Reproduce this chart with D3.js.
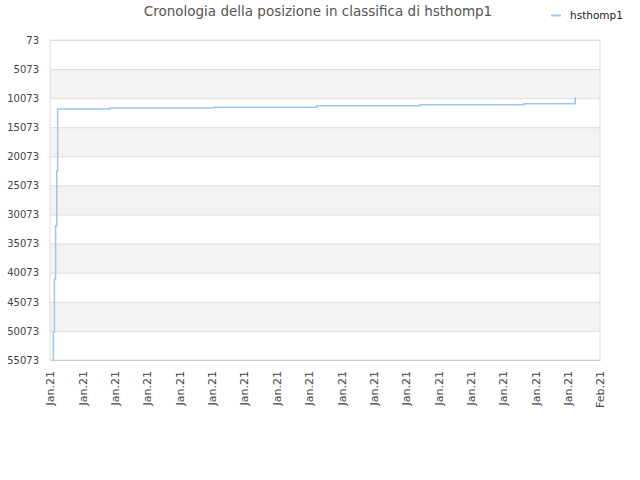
<!DOCTYPE html>
<html>
<head>
<meta charset="utf-8">
<script src="https://cdn.jsdelivr.net/npm/d3@7"></script>
<style>
  body { margin: 0; background: #fff; }
  svg { font-family: "DejaVu Sans", sans-serif; }
</style>
</head>
<body>
<div id="chart"></div>
<script>
// chart data
const seriesName = "hsthomp1"
const times = [
  "2021-01-15T02:15", "2021-01-15T02:30", "2021-01-15T03:15", "2021-01-15T04:10",
  "2021-01-15T05:00", "2021-01-15T05:40", "2021-01-16T20:30", "2021-01-20T01:40",
  "2021-01-23T06:00", "2021-01-26T10:30", "2021-01-29T15:40", "2021-01-31T05:40"
]
const ranks = [55073, 50312, 41151, 31990, 22589, 11932, 11761, 11640, 11365, 11193, 11021, 9921]
const rankTicks = [73, 5073, 10073, 15073, 20073, 25073, 30073, 35073, 40073, 45073, 50073, 55073]
const dateStart = "2021-01-15"
const dateEnd = "2021-02-01"

const width = 640, height = 480
const margin = { top: 40, right: 40, bottom: 120, left: 50 }
const boundedWidth = width - margin.left - margin.right
const boundedHeight = height - margin.top - margin.bottom

const parse = d3.timeParse("%Y-%m-%dT%H:%M")
const parseDay = d3.timeParse("%Y-%m-%d")
const data = times.map((t, i) => ({ date: parse(t), rank: ranks[i] }))

const svg = d3.select("#chart").append("svg")
  .attr("width", width)
  .attr("height", height)

// title
svg.append("text")
  .attr("x", 318)
  .attr("y", 16)
  .attr("text-anchor", "middle")
  .style("font-size", "13.5px")
  .style("fill", "#555")
  .text("Cronologia della posizione in classifica di " + seriesName)

// legend
svg.append("line")
  .attr("x1", 551).attr("x2", 561)
  .attr("y1", 15.5).attr("y2", 15.5)
  .style("stroke", "#99c7f5")
  .style("stroke-width", 2)
svg.append("text")
  .attr("x", 570)
  .attr("y", 19)
  .style("font-size", "10.5px")
  .style("fill", "#222")
  .text(seriesName)

const wrapper = svg.append("g")
  .attr("transform", `translate(${margin.left}, ${margin.top})`)

const x = d3.scaleTime()
  .domain([parseDay(dateStart), parseDay(dateEnd)])
  .range([0, boundedWidth])

const y = d3.scaleLinear()
  .domain([rankTicks[0], rankTicks[rankTicks.length - 1]])
  .range([0, boundedHeight])

// alternating bands
for (let i = 1; i < rankTicks.length - 1; i += 2) {
  wrapper.append("rect")
    .attr("x", 0)
    .attr("y", y(rankTicks[i]))
    .attr("width", boundedWidth)
    .attr("height", y(rankTicks[i + 1]) - y(rankTicks[i]))
    .style("fill", "#f3f3f3")
}

// y axis with gridlines
wrapper.append("g")
  .call(d3.axisLeft(y).tickValues(rankTicks).tickFormat(d3.format("d")).tickSize(-boundedWidth).tickPadding(11))
  .call(g => g.select(".domain").remove())
  .call(g => g.selectAll("line").style("stroke", "#dddddd"))
  .call(g => g.selectAll("text").style("font-size", "10px").style("fill", "#444").style("font-family", "DejaVu Sans"))

// plot border
wrapper.append("rect")
  .attr("width", boundedWidth)
  .attr("height", boundedHeight)
  .style("fill", "none")
  .style("stroke", "#dddddd")

// x axis
const xAxis = wrapper.append("g")
  .attr("transform", `translate(0, ${boundedHeight})`)
  .call(d3.axisBottom(x).ticks(d3.timeDay.every(1)).tickFormat(d3.timeFormat("%b.%y")).tickSize(0))
xAxis.select(".domain").style("stroke", "#cccccc")
xAxis.selectAll("text")
  .attr("transform", "rotate(-90)")
  .attr("text-anchor", "end")
  .attr("x", -11)
  .attr("y", 0)
  .attr("dy", "0.35em")
  .style("font-size", "11px")
  .style("fill", "#444")
  .style("font-family", "DejaVu Sans")

// rank line
wrapper.append("path")
  .datum(data)
  .attr("d", d3.line().curve(d3.curveStepAfter).x(d => x(d.date)).y(d => y(d.rank)))
  .style("fill", "none")
  .style("stroke", "#99c7f5")
  .style("stroke-width", 1.5)
</script>
</body>
</html>
